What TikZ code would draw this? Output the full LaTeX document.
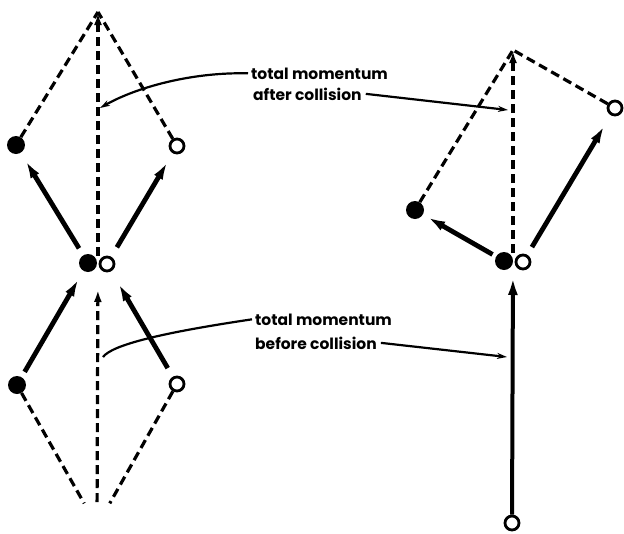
\documentclass[tikz,border=0pt]{standalone}
\usepackage{fontspec}
\setmainfont{Poppins}
\usetikzlibrary{arrows.meta, positioning}

\begin{document}
\begin{tikzpicture}[x=1pt, y=-1pt,
    blackball/.style={circle, fill=black, minimum size=18pt, inner sep=0pt},
    whiteball/.style={circle, draw, line width=2.8pt, fill=white, minimum size=14pt, inner sep=0pt},
    momentum/.style={line width=4.8pt, -{Latex[length=18pt, width=10pt]}},
    total/.style={line width=3.2pt, dash pattern=on 9pt off 5pt},
    leader/.style={line width=2.2pt},
    caption/.style={font=\fontsize{15.5}{18}\selectfont\bfseries, inner sep=0pt, anchor=base west}]
    \useasboundingbox (0,0) rectangle (624,533);

    % left: both balls moving in
    \coordinate (topL) at (98,12);
    \coordinate (baseL) at (97,526);
    \coordinate (pairL) at (98,263);
    \node[blackball] (pairLb) at (88,263) {};
    \node[whiteball] (pairLw) at (107,264) {};
    \node[blackball] (upLb) at (16,145) {};
    \node[whiteball] (upLw) at (177,146) {};
    \node[blackball] (loLb) at (17,385) {};
    \node[whiteball] (loLw) at (177,384) {};

    \draw[total] (upLb) -- (topL);
    \draw[total] (upLw) -- (topL);
    \draw[total, -{Latex[length=12pt, width=8pt]}, shorten <=7pt, shorten >=1pt] (pairL) -- (topL);
    \draw[total, shorten >=26pt] (loLb) -- (baseL);
    \draw[total, shorten >=26pt] (loLw) -- (baseL);
    \draw[total, -{Latex[length=12pt, width=8pt]}, shorten <=24pt, shorten >=27pt] (baseL) -- (pairL);

    \draw[momentum, shorten <=8pt, shorten >=9pt] (pairLb) -- (upLb);
    \draw[momentum, shorten <=11pt, shorten >=10pt] (pairLw) -- (upLw);
    \draw[momentum, shorten <=6pt, shorten >=9pt] (loLb) -- (pairLb);
    \draw[momentum, shorten <=10pt, shorten >=14pt] (loLw) -- (pairLw);

    % right: white ball hits the resting black one
    \coordinate (topR) at (513,50);
    \coordinate (pairR) at (513,262);
    \node[blackball] (pairRb) at (504,261) {};
    \node[whiteball] (pairRw) at (523,262) {};
    \node[blackball] (sideRb) at (415,210) {};
    \node[whiteball] (sideRw) at (615,108) {};
    \node[whiteball] (startRw) at (512,523) {};

    \draw[total] (sideRb) -- (topR);
    \draw[total] (sideRw) -- (topR);
    \draw[total, -{Latex[length=12pt, width=8pt]}, shorten <=9pt, shorten >=1pt] (pairR) -- (topR);

    \draw[momentum, shorten <=4pt, shorten >=5pt] (pairRb) -- (sideRb);
    \draw[momentum, shorten <=9pt, shorten >=12pt] (pairRw) -- (sideRw);
    \draw[momentum, line width=4pt, shorten >=15pt] (startRw) -- (pairR);

    % labels
    \node[caption] (afterA) at (251,79) {total momentum};
    \node[caption] (afterB) at (253,100) {after collision};
    \node[caption] (beforeA) at (255,325) {total momentum};
    \node[caption] (beforeB) at (255,349) {before collision};

    \coordinate (afterTipL) at (100,108);
    \coordinate (afterTipR) at (508,110);
    \coordinate (beforeEnd) at (103,357);
    \coordinate (beforeTipR) at (507,357);

    \draw[leader, -{Stealth[length=10pt, width=6pt]}] ([xshift=-3pt]afterA.west) .. controls (190,72) and (135,88) .. (afterTipL);
    \draw[leader, -{Stealth[length=10pt, width=6pt]}] ([xshift=4pt]afterB.east) -- (afterTipR);
    \draw[leader] ([xshift=-3pt]beforeA.west) .. controls (160,333) and (112,345) .. (beforeEnd);
    \draw[leader, -{Stealth[length=10pt, width=6pt]}] ([xshift=4pt]beforeB.east) -- (beforeTipR);
\end{tikzpicture}
\end{document}
